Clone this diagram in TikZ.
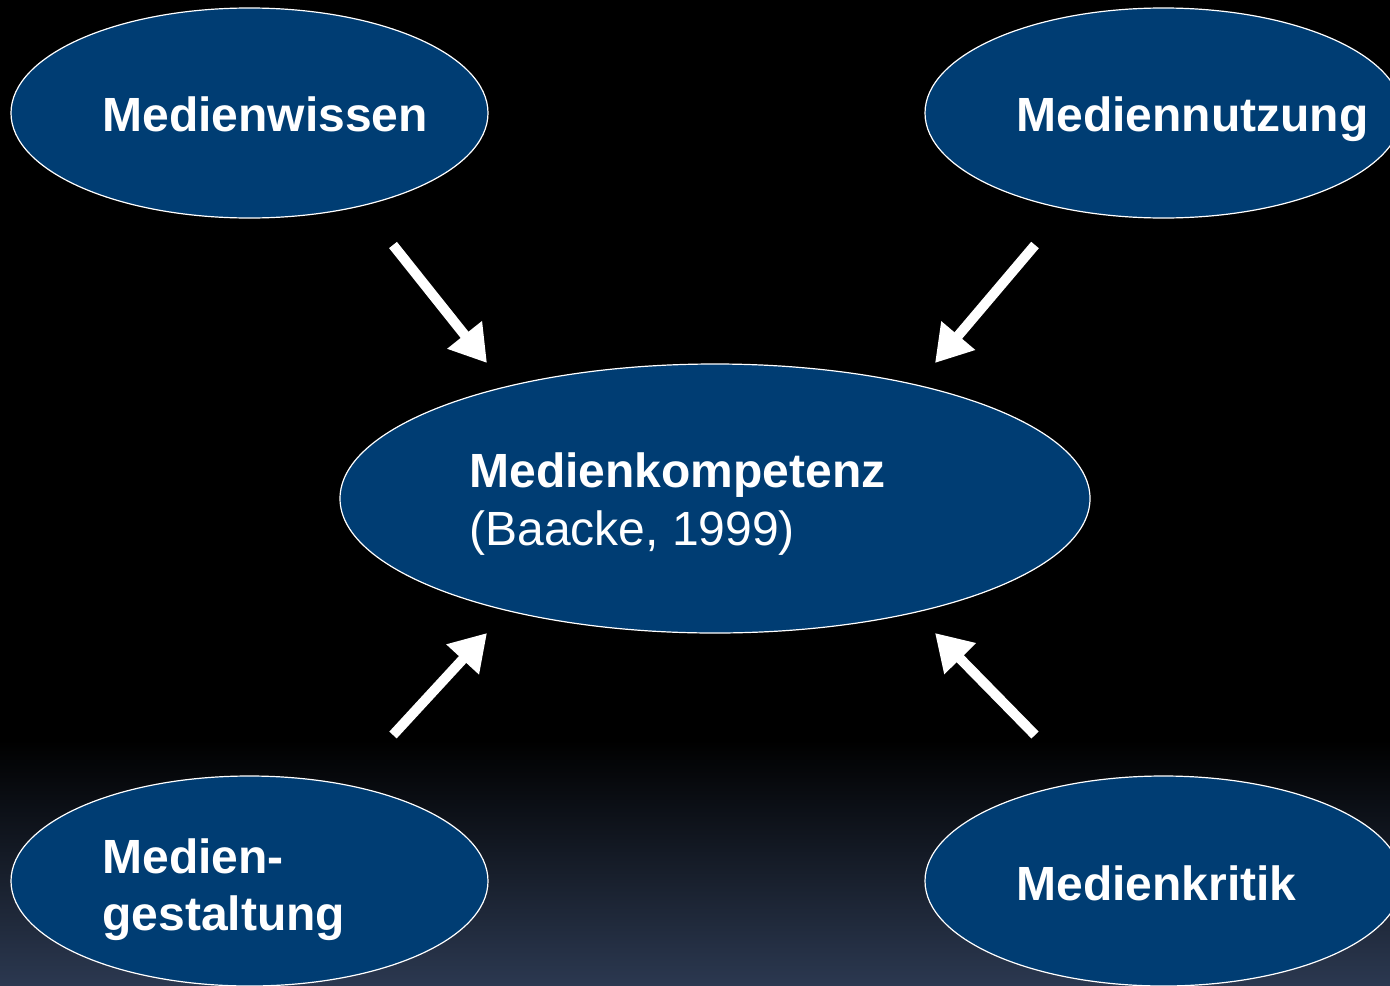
\documentclass[tikz,border=0pt]{standalone}
\usepackage{fontspec}
\setmainfont{Liberation Sans}
\usetikzlibrary{shapes.geometric,arrows.meta}
\definecolor{ellfill}{HTML}{003D73}
\definecolor{bgbot}{HTML}{2B3850}
\begin{document}
\begin{tikzpicture}[x=0.5pt,y=-0.5pt,
  ell/.style={ellipse,draw=white,line width=0.6pt,fill=ellfill,inner sep=0pt},
  lbl/.style={anchor=base west,text=white,font=\fontsize{24}{28}\selectfont\bfseries,inner sep=0pt},
  sub/.style={anchor=base west,text=white,font=\fontsize{24}{28}\selectfont,inner sep=0pt},
  arr/.style={draw=white,line width=5pt,-{Triangle[length=18pt,width=21pt]}}]
\useasboundingbox (0,0) rectangle (1390,985);
\begin{scope}
\clip (0,0) rectangle (1390,985);
\fill[black] (0,0) rectangle (1390,742);
\shade[top color=black,bottom color=bgbot] (0,740) rectangle (1390,985);
\node[ell,minimum width=238.5pt,minimum height=105pt] (wissen) at (249.5,113) {};
\node[ell,minimum width=238.5pt,minimum height=105pt] (nutzung) at (1163.5,113) {};
\node[ell,minimum width=375pt,minimum height=134.5pt] (komp) at (715,498.5) {};
\node[ell,minimum width=238.5pt,minimum height=105pt] (gestalt) at (249.5,881) {};
\node[ell,minimum width=238.5pt,minimum height=105pt] (kritik) at (1163.5,881) {};
\end{scope}
\node[lbl] (twissen) at (102,131) {Medienwissen};
\node[lbl] (tnutzung) at (1016,131) {Mediennutzung};
\node[lbl] (tkomp) at (469,487) {Medienkompetenz};
\node[sub] (tbaacke) at (469,545) {(Baacke, 1999)};
\node[lbl] (tgest1) at (102,873) {Medien-};
\node[lbl] (tgest2) at (102,930) {gestaltung};
\node[lbl] (tkritik) at (1016,900) {Medienkritik};
\coordinate (a1s) at (393,245); \coordinate (a1e) at (487,363);
\coordinate (a2s) at (1035,245); \coordinate (a2e) at (935,363);
\coordinate (a3s) at (393,735); \coordinate (a3e) at (487,633);
\coordinate (a4s) at (1035,735); \coordinate (a4e) at (935,633);
\draw[arr] (a1s) -- (a1e);
\draw[arr] (a2s) -- (a2e);
\draw[arr] (a3s) -- (a3e);
\draw[arr] (a4s) -- (a4e);
\end{tikzpicture}
\end{document}
